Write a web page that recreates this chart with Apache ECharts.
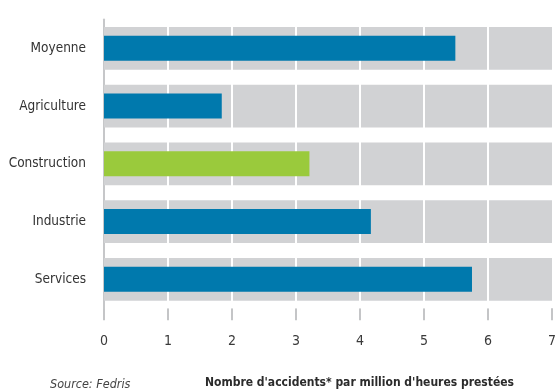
<!DOCTYPE html>
<html><head><meta charset="utf-8">
<script src="https://cdn.jsdelivr.net/npm/echarts@6/dist/echarts.min.js"></script>
<style>html,body{margin:0;padding:0;background:#fff}#c{width:559px;height:389px}</style>
</head><body><div id="c"></div>
<script>
const categories = ['Moyenne', 'Agriculture', 'Construction', 'Industrie', 'Services'];
const values = [5.49, 1.84, 3.21, 4.17, 5.75];
const highlight = 'Construction';
const xTicks = [0, 1, 2, 3, 4, 5, 6, 7];
const axisMax = 7;
const gridLines = [1, 2, 3, 4, 5, 6];
const sourceText = 'Source: Fedris';
const axisTitle = "Nombre d'accidents* par million d'heures prestées";

const FONT = "'Liberation Sans Narrow', 'DejaVu Sans Condensed', 'Roboto', sans-serif";
const chart = echarts.init(document.getElementById('c'), null, {renderer: 'canvas'});
chart.setOption({
  animation: false,
  backgroundColor: '#ffffff',
  title: [
    {text: sourceText, left: 45, top: 373, textStyle: {fontFamily: FONT, fontStyle: 'italic', fontWeight: 'normal', fontSize: 12.5, color: '#444'}},
    {text: axisTitle, left: 200, top: 372, textStyle: {fontFamily: FONT, fontWeight: 'bold', fontSize: 12, color: '#2b2b2b'}}
  ],
  grid: {left: 104, right: 4, top: 19.4, bottom: 80.8, containLabel: false},
  xAxis: {
    type: 'value', min: 0, max: axisMax, interval: 1,
    axisLine: {show: false},
    axisTick: {show: true, length: 12, lineStyle: {color: '#c4c5c7', width: 2}},
    splitLine: {show: false},
    axisLabel: {margin: 26, fontFamily: FONT, fontSize: 14, color: '#3a3a3a',
      formatter: v => xTicks.includes(v) ? String(v) : ''}
  },
  yAxis: [
    {type: 'category', data: categories, inverse: true,
      axisLine: {show: true, lineStyle: {color: '#c6c7c9', width: 2}},
      axisTick: {show: false},
      axisLabel: {margin: 18, fontFamily: FONT, fontSize: 13.5, color: '#333'}},
    {type: 'category', data: categories, inverse: true, show: false}
  ],
  series: [
    {
      type: 'bar', yAxisIndex: 1, silent: true, z: 1,
      data: categories.map(() => axisMax),
      barWidth: 42.7,
      itemStyle: {color: '#d1d2d4'},
      markLine: {
        silent: true, symbol: 'none', label: {show: false},
        lineStyle: {color: '#ffffff', width: 2, type: 'solid'},
        data: gridLines.map(v => ({xAxis: v}))
      }
    },
    {
      type: 'bar', yAxisIndex: 0, z: 5,
      barWidth: 25,
      data: values.map((v, i) => ({value: v, itemStyle: {color: categories[i] === highlight ? '#9aca3c' : '#0079ad'}}))
    }
  ]
});
</script></body></html>
